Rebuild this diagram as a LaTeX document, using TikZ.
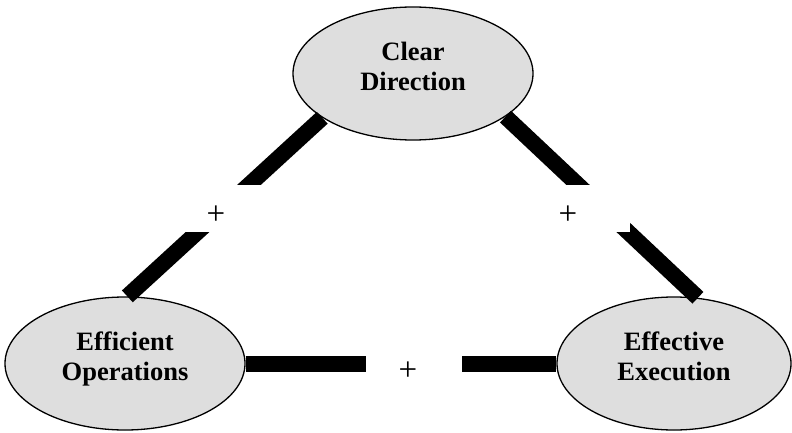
\documentclass[tikz,border=0pt]{standalone}
\usepackage{fontspec}
\setmainfont{Liberation Serif}
\usepackage{xcolor}
\usetikzlibrary{shapes.geometric}
\tikzset{
  idea/.style={
    draw,
    ellipse,
    line width=1.3pt,
    minimum width=240pt,
    minimum height=133pt,
    inner sep=0pt,
    align=center,
    text height=48pt,
    text depth=14pt,
    font=\fontsize{26.5}{30}\selectfont\bfseries,
    fill=black!13
  },
  link/.style={line width=16pt, draw=black},
  gap/.style={
    fill=white,
    minimum width=96pt,
    minimum height=47pt,
    inner sep=0pt
  },
  sign/.style={font=\fontsize{33}{36}\selectfont, inner sep=0pt}
}

\begin{document}
\begin{tikzpicture}[x=1pt, y=-1pt]
  \useasboundingbox (0,0) rectangle (792,433);

  \node[idea] (clear) at (413,73.5) {Clear\\Direction};
  \node[idea] (ops) at (125,363.5) {Efficient\\Operations};
  \node[idea, minimum width=234pt] (exec) at (674,363.5) {Effective\\Execution};

  \draw[link] (clear.206) -- (ops.88);
  \draw[link] (clear.335) -- (exec.70);
  \draw[link] (ops.east) -- (exec.west);

  \node[gap] (gapL) at (222,208.5) {};
  \node[gap] (gapR) at (582,208.5) {};
  \node[gap] (gapB) at (414,364) {};

  \node[sign] (plusL) at (216,215) {+};
  \node[sign] (plusR) at (568,215) {+};
  \node[sign] (plusB) at (408,371) {+};
\end{tikzpicture}
\end{document}
